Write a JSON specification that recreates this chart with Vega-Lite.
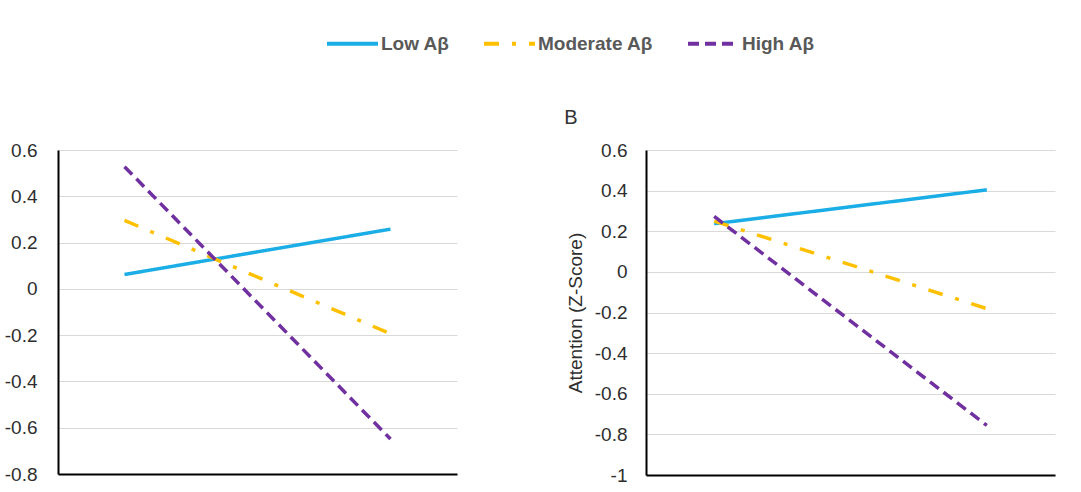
{
  "$schema": "https://vega.github.io/schema/vega-lite/v6.json",
  "padding": {"left": 4, "top": 16, "right": 26, "bottom": 10},
  "bounds": "flush",
  "spacing": 189,
  "background": "white",
  "config": {
    "font": "Liberation Sans",
    "view": {"stroke": null},
    "axisY": {
      "ticks": false,
      "domainColor": "#000000",
      "domainWidth": 2,
      "gridColor": "#d9d9d9",
      "gridWidth": 1,
      "labelFont": "Liberation Sans",
      "labelFontSize": 19,
      "labelColor": "#2e2e2e",
      "labelExpr": "toString(datum.value)"
    },
    "axisX": {
      "labels": false,
      "ticks": false,
      "grid": false,
      "domainColor": "#000000",
      "domainWidth": 2,
      "title": null
    }
  },
  "datasets": {
    "A": [
      {"group": "Low Aβ", "level": "Low", "z": 0.062},
      {"group": "Low Aβ", "level": "High", "z": 0.258},
      {"group": "Moderate Aβ", "level": "Low", "z": 0.296},
      {"group": "Moderate Aβ", "level": "High", "z": -0.194},
      {"group": "High Aβ", "level": "Low", "z": 0.528},
      {"group": "High Aβ", "level": "High", "z": -0.649}
    ],
    "B": [
      {"group": "Low Aβ", "level": "Low", "z": 0.237},
      {"group": "Low Aβ", "level": "High", "z": 0.404},
      {"group": "Moderate Aβ", "level": "Low", "z": 0.25},
      {"group": "Moderate Aβ", "level": "High", "z": -0.181},
      {"group": "High Aβ", "level": "Low", "z": 0.273},
      {"group": "High Aβ", "level": "High", "z": -0.756}
    ]
  },
  "resolve": {
    "scale": {"x": "independent", "y": "independent", "color": "shared", "strokeDash": "shared"},
    "legend": {"color": "shared", "strokeDash": "shared"}
  },
  "hconcat": [
    {
      "width": 399,
      "height": 324,
      "data": {"name": "A"},
      "mark": {"type": "line", "strokeWidth": 3.5, "strokeCap": "butt"},
      "encoding": {
        "x": {"field": "level", "type": "ordinal", "sort": ["Low", "High"], "scale": {"type": "point", "padding": 0.25}},
        "y": {"field": "z", "type": "quantitative", "scale": {"domain": [-0.8, 0.6], "nice": false, "zero": false},
              "axis": {"values": [-0.8, -0.6, -0.4, -0.2, 0, 0.2, 0.4, 0.6], "title": null, "labelPadding": 21}},
        "color": {"field": "group", "type": "nominal", "sort": ["Low Aβ", "Moderate Aβ", "High Aβ"],
                  "scale": {"domain": ["Low Aβ", "Moderate Aβ", "High Aβ"], "range": ["#1BAEE6", "#FFC000", "#7030A0"]},
                  "legend": {"title": null, "orient": "none", "legendX": 267, "legendY": -134, "direction": "horizontal",
                             "symbolType": "stroke", "symbolSize": 2601, "symbolStrokeWidth": 4, "labelOffset": 1,
                             "columnPadding": 26, "labelFontSize": 19, "labelFontWeight": "bold", "labelColor": "#595959", "labelFont": "Liberation Sans"}},
        "strokeDash": {"field": "group", "type": "nominal", "sort": ["Low Aβ", "Moderate Aβ", "High Aβ"],
                  "scale": {"domain": ["Low Aβ", "Moderate Aβ", "High Aβ"], "range": [[1, 0], [15, 13, 4, 13], [11, 6]]},
                  "legend": {"title": null, "orient": "none", "legendX": 267, "legendY": -134, "direction": "horizontal",
                             "symbolType": "stroke", "symbolSize": 2601, "symbolStrokeWidth": 4, "labelOffset": 1,
                             "columnPadding": 26, "labelFontSize": 19, "labelFontWeight": "bold", "labelColor": "#595959", "labelFont": "Liberation Sans"}}
      }
    },
    {
      "width": 409,
      "height": 325,
      "title": {"text": "B", "anchor": "start", "frame": "bounds", "fontSize": 20, "fontWeight": "normal", "color": "#333333", "font": "Liberation Sans", "baseline": "alphabetic", "offset": -3, "dx": -2},
      "data": {"name": "B"},
      "mark": {"type": "line", "strokeWidth": 3.5, "strokeCap": "butt"},
      "encoding": {
        "x": {"field": "level", "type": "ordinal", "sort": ["Low", "High"], "scale": {"type": "point", "padding": 0.25}},
        "y": {"field": "z", "type": "quantitative", "scale": {"domain": [-1, 0.6], "nice": false, "zero": false},
              "axis": {"values": [-1, -0.8, -0.6, -0.4, -0.2, 0, 0.2, 0.4, 0.6], "title": "Attention (Z-Score)", "labelPadding": 19,
                       "titlePadding": 9, "titleFontSize": 19, "titleFontWeight": "normal", "titleColor": "#2e2e2e", "titleFont": "Liberation Sans"}},
        "color": {"field": "group", "type": "nominal", "sort": ["Low Aβ", "Moderate Aβ", "High Aβ"],
                  "scale": {"domain": ["Low Aβ", "Moderate Aβ", "High Aβ"], "range": ["#1BAEE6", "#FFC000", "#7030A0"]},
                  "legend": {"title": null, "orient": "none", "legendX": 267, "legendY": -134, "direction": "horizontal",
                             "symbolType": "stroke", "symbolSize": 2601, "symbolStrokeWidth": 4, "labelOffset": 1,
                             "columnPadding": 26, "labelFontSize": 19, "labelFontWeight": "bold", "labelColor": "#595959", "labelFont": "Liberation Sans"}},
        "strokeDash": {"field": "group", "type": "nominal", "sort": ["Low Aβ", "Moderate Aβ", "High Aβ"],
                  "scale": {"domain": ["Low Aβ", "Moderate Aβ", "High Aβ"], "range": [[1, 0], [15, 13, 4, 13], [11, 6]]},
                  "legend": {"title": null, "orient": "none", "legendX": 267, "legendY": -134, "direction": "horizontal",
                             "symbolType": "stroke", "symbolSize": 2601, "symbolStrokeWidth": 4, "labelOffset": 1,
                             "columnPadding": 26, "labelFontSize": 19, "labelFontWeight": "bold", "labelColor": "#595959", "labelFont": "Liberation Sans"}}
      }
    }
  ]
}
